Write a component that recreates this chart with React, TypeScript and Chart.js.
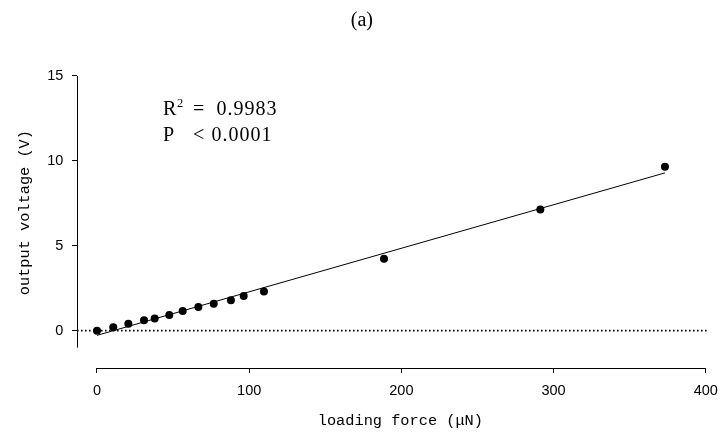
import React, { useEffect, useRef } from 'react';
import { Chart, registerables } from 'chart.js';

Chart.register(...registerables);

// Calibration measurements: applied loading force (µN) and sensor output (V)
const forceUN = [0, 10.7, 20.6, 30.9, 37.9, 47.5, 56.3, 66.6, 76.7, 88.0, 96.4, 109.7, 188.6, 291.3, 373.2];
const voltageV = [0, 0.2, 0.41, 0.61, 0.71, 0.92, 1.16, 1.4, 1.59, 1.79, 2.04, 2.3, 4.24, 7.13, 9.66];

// Axis ticks and extents (R-style detached axes)
const xTicks = [0, 100, 200, 300, 400];
const yTicks = [0, 5, 10, 15];
const xAxisSpan = [0, 400];
const yAxisSpan = [-1, 15];
const xLimits = [-13.14, 411.8];
const yLimits = [-2.2, 16.1];
const zeroLineSpan = [-13.14, 401];

// Fit statistics
const rSquaredText = '0.9983';
const pValueText = '0.0001';

function linearFit(xs: number[], ys: number[]) {
  const n = xs.length;
  const mx = xs.reduce((a, b) => a + b, 0) / n;
  const my = ys.reduce((a, b) => a + b, 0) / n;
  let sxy = 0;
  let sxx = 0;
  for (let i = 0; i < n; i++) {
    sxy += (xs[i] - mx) * (ys[i] - my);
    sxx += (xs[i] - mx) * (xs[i] - mx);
  }
  const slope = sxy / sxx;
  return { slope, intercept: my - slope * mx };
}

const fit = linearFit(forceUN, voltageV);
const fitRange = [Math.min(...forceUN), Math.max(...forceUN)];

const SERIF = '"Liberation Serif", "DejaVu Serif", serif';
const SANS = '"Liberation Sans", Arial, sans-serif';
const MONO = '"Liberation Mono", "DejaVu Sans Mono", monospace';

// Draws the axis lines only between the end ticks, like base R graphics
const detachedAxesPlugin = {
  id: 'detachedAxes',
  afterDraw(chart: any) {
    const { ctx, chartArea, scales } = chart;
    const x = scales.x;
    const y = scales.y;
    ctx.save();
    ctx.strokeStyle = '#000';
    ctx.lineWidth = 1;
    const by = Math.round(chartArea.bottom - 0.5) + 0.5;
    const lx = Math.round(chartArea.left - 0.5) + 0.5;
    ctx.beginPath();
    ctx.moveTo(x.getPixelForValue(xAxisSpan[0]), by);
    ctx.lineTo(x.getPixelForValue(xAxisSpan[1]), by);
    ctx.moveTo(lx, y.getPixelForValue(yAxisSpan[0]));
    ctx.lineTo(lx, y.getPixelForValue(yAxisSpan[1]));
    ctx.stroke();
    ctx.restore();
  },
};

// Goodness-of-fit annotation in the upper left of the panel
const fitStatsPlugin = {
  id: 'fitStats',
  afterDraw(chart: any) {
    const { ctx } = chart;
    ctx.save();
    ctx.fillStyle = '#000';
    ctx.textBaseline = 'alphabetic';
    ctx.textAlign = 'left';
    ctx.font = `20px ${SERIF}`;
    ctx.fillText('R', 163, 115);
    ctx.font = `12.5px ${SERIF}`;
    ctx.fillText('2', 177, 106.5);
    ctx.font = `20px ${SERIF}`;
    ctx.fillText('=', 193, 115);
    ctx.fillText('P', 163, 140.5);
    ctx.fillText('<', 193, 140.5);
    (ctx as any).letterSpacing = '1px';
    ctx.fillText(rSquaredText, 216.5, 115);
    ctx.fillText(pValueText, 211.5, 140.5);
    ctx.restore();
  },
};

export default function App() {
  const canvasRef = useRef<HTMLCanvasElement | null>(null);

  useEffect(() => {
    const canvas = canvasRef.current;
    if (!canvas) return;

    const chart = new Chart(canvas, {
      type: 'scatter',
      data: {
        datasets: [
          {
            type: 'scatter',
            label: 'measured',
            data: forceUN.map((f, i) => ({ x: f, y: voltageV[i] })),
            backgroundColor: '#000',
            borderColor: '#000',
            borderWidth: 0,
            pointRadius: 4,
            pointHoverRadius: 4,
          },
          {
            type: 'line',
            label: 'linear fit',
            data: fitRange.map((f) => ({ x: f, y: fit.intercept + fit.slope * f })),
            borderColor: '#000',
            borderWidth: 1,
            pointRadius: 0,
            fill: false,
            tension: 0,
          },
          {
            type: 'line',
            label: 'zero',
            data: zeroLineSpan.map((f) => ({ x: f, y: 0 })),
            borderColor: '#000',
            borderWidth: 1.6,
            borderDash: [1.6, 2.4],
            pointRadius: 0,
            fill: false,
          },
        ],
      } as any,
      options: {
        animation: false,
        responsive: false,
        devicePixelRatio: 1,
        layout: { padding: { left: 0, right: 6.3, top: 0, bottom: 0 } },
        plugins: {
          legend: { display: false },
          tooltip: { enabled: false },
          title: {
            display: true,
            text: '(a)',
            color: '#000',
            font: { family: SERIF, size: 20, weight: 'normal' },
            padding: { top: 9, bottom: 24.3 },
          },
        },
        scales: {
          x: {
            type: 'linear',
            position: 'bottom',
            min: xLimits[0],
            max: xLimits[1],
            afterBuildTicks: (axis: any) => {
              axis.ticks = xTicks.map((value) => ({ value }));
            },
            afterFit: (scale: any) => {
              scale.height = 75;
            },
            grid: {
              display: true,
              drawOnChartArea: false,
              drawTicks: true,
              tickLength: 5,
              color: '#000',
              lineWidth: 1,
            },
            border: { display: false },
            ticks: {
              color: '#000',
              font: { family: SANS, size: 14.5 },
              padding: 9,
              maxRotation: 0,
              autoSkip: false,
            },
            title: {
              display: true,
              text: 'loading force (μN)',
              color: '#000',
              font: { family: MONO, size: 15.3 },
              padding: { top: 0, bottom: 12.8 },
            },
          },
          y: {
            type: 'linear',
            min: yLimits[0],
            max: yLimits[1],
            afterBuildTicks: (axis: any) => {
              axis.ticks = yTicks.map((value) => ({ value }));
            },
            afterFit: (scale: any) => {
              scale.width = 77;
            },
            grid: {
              display: true,
              drawOnChartArea: false,
              drawTicks: true,
              tickLength: 5,
              color: '#000',
              lineWidth: 1,
            },
            border: { display: false },
            ticks: {
              color: '#000',
              font: { family: SANS, size: 14.5 },
              padding: 8.7,
              autoSkip: false,
            },
            title: {
              display: true,
              text: 'output voltage (V)',
              color: '#000',
              font: { family: MONO, size: 15.3 },
              padding: { top: 15.8, bottom: 0 },
            },
          },
        },
      } as any,
      plugins: [detachedAxesPlugin, fitStatsPlugin],
    });

    return () => chart.destroy();
  }, []);

  return (
    <div
      style={{
        position: 'fixed',
        left: 0,
        top: 0,
        width: 720,
        height: 443,
        overflow: 'hidden',
        background: '#fff',
      }}
    >
      <canvas ref={canvasRef} width={730} height={443} style={{ display: 'block' }} />
    </div>
  );
}
